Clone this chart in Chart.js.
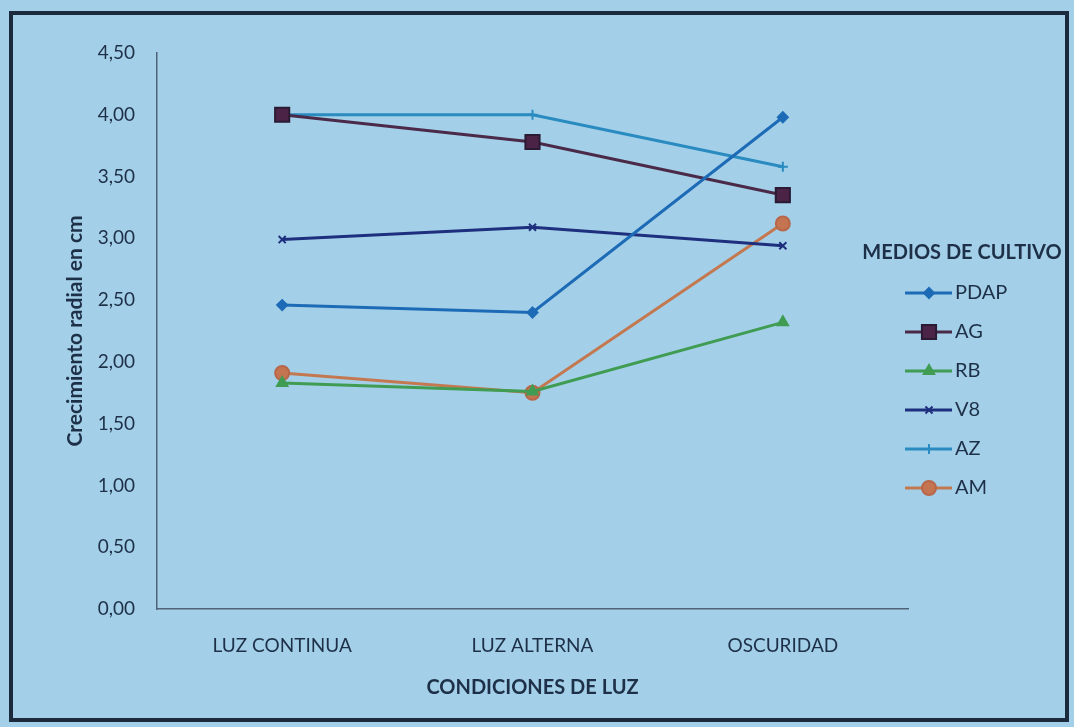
<!DOCTYPE html>
<html>
<head>
<meta charset="utf-8">
<script src="https://cdn.jsdelivr.net/npm/chart.js@4.4.0/dist/chart.umd.min.js"></script>
<style>
  html, body { margin: 0; padding: 0; background: #a3d0e8; }
  #wrap { width: 1074px; height: 727px; position: relative; }
</style>
</head>
<body>
<div id="wrap"><canvas id="c" width="1074" height="727"></canvas></div>
<script>
const categories = ['LUZ CONTINUA', 'LUZ ALTERNA', 'OSCURIDAD'];
const seriesNames = ['PDAP', 'AG', 'RB', 'V8', 'AZ', 'AM'];
const PDAP = [2.46, 2.40, 3.98];
const AG   = [4.00, 3.78, 3.35];
const RB   = [1.83, 1.76, 2.32];
const V8   = [2.99, 3.09, 2.94];
const AZ   = [4.00, 4.00, 3.58];
const AM   = [1.91, 1.75, 3.12];
const yTicks = [0, 0.5, 1, 1.5, 2, 2.5, 3, 3.5, 4, 4.5];

const TEXT = '#1e3048';
const FONT = 'Lato, "Open Sans", sans-serif';

const styles = [
  { line: '#1d6bb6', fill: '#1d6bb6', border: '#1d6bb6', shape: 'rectRot', r: 5 },
  { line: '#4a2a48', fill: '#4b2347', border: '#2b1a33', shape: 'rect', r: 10 },
  { line: '#3f9c52', fill: '#3f9c52', border: '#3f9c52', shape: 'triangle', r: 6 },
  { line: '#1e2f7e', fill: '#1e2f7e', border: '#1e2f7e', shape: 'crossRot', r: 5 },
  { line: '#2a8bc0', fill: '#2a8bc0', border: '#2a8bc0', shape: 'cross', r: 5 },
  { line: '#c47850', fill: '#c47450', border: '#b8664a', shape: 'circle', r: 7 }
];
const values = [PDAP, AG, RB, V8, AZ, AM];

const datasets = seriesNames.map((n, i) => ({
  label: n,
  data: values[i],
  borderColor: styles[i].line,
  backgroundColor: styles[i].fill,
  pointBackgroundColor: styles[i].fill,
  pointBorderColor: styles[i].border,
  pointStyle: styles[i].shape,
  pointRadius: styles[i].r,
  pointBorderWidth: 2,
  borderWidth: 3,
  tension: 0
}));

const framePlugin = {
  id: 'frame',
  beforeDraw(chart) {
    const ctx = chart.ctx;
    ctx.save();
    ctx.fillStyle = '#a3d0e8';
    ctx.fillRect(0, 0, chart.width, chart.height);
    ctx.strokeStyle = '#1b2a3c';
    ctx.lineWidth = 4;
    ctx.strokeRect(11, 13, 1056, 707);
    ctx.restore();
  }
};

const legendPlugin = {
  id: 'customLegend',
  afterDraw(chart) {
    const ctx = chart.ctx;
    ctx.save();
    ctx.fillStyle = TEXT;
    ctx.font = 'bold 20px ' + FONT;
    ctx.textAlign = 'center';
    ctx.textBaseline = 'middle';
    ctx.fillText('MEDIOS DE CULTIVO', 962, 253);
    chart.data.datasets.forEach((ds, i) => {
      const y = 293 + i * 39;
      ctx.strokeStyle = ds.borderColor;
      ctx.lineWidth = 3;
      ctx.beginPath();
      ctx.moveTo(905, y);
      ctx.lineTo(952, y);
      ctx.stroke();
      ctx.fillStyle = ds.pointBackgroundColor;
      ctx.strokeStyle = ds.pointBorderColor;
      ctx.lineWidth = 2;
      Chart.helpers.drawPoint(ctx, {
        pointStyle: ds.pointStyle,
        radius: ds.pointRadius,
        borderWidth: 2,
        rotation: 0
      }, 929, y);
      ctx.fillStyle = TEXT;
      ctx.font = '20px ' + FONT;
      ctx.textAlign = 'left';
      ctx.fillText(ds.label, 955, y);
    });
    ctx.restore();
  }
};

new Chart(document.getElementById('c'), {
  type: 'line',
  data: { labels: categories, datasets },
  options: {
    responsive: false,
    animation: false,
    layout: { padding: { left: 59, right: 166, top: 53, bottom: 23 } },
    plugins: {
      legend: { display: false },
      tooltip: { enabled: false }
    },
    scales: {
      x: {
        offset: true,
        grid: { display: false, drawTicks: false },
        border: { color: '#50627a', width: 1.5 },
        ticks: { color: TEXT, font: { family: FONT, size: 19 }, padding: 25 },
        title: { display: true, text: 'CONDICIONES DE LUZ', color: TEXT, font: { family: FONT, size: 20, weight: 'bold' }, padding: 4 },
        afterFit(s) { s.height = 95; }
      },
      y: {
        min: 0, max: 4.5,
        afterBuildTicks(s) { s.ticks = yTicks.map(v => ({ value: v })); },
        grid: { display: false, drawTicks: false },
        border: { color: '#50627a', width: 1.5 },
        ticks: {
          color: TEXT, font: { family: FONT, size: 19 }, padding: 22,
          callback: v => Number(v).toFixed(2).replace('.', ',')
        },
        title: { display: true, text: 'Crecimiento radial en cm', color: TEXT, font: { family: FONT, size: 21, weight: 'bold' }, padding: 4 },
        afterFit(s) { s.width = 157 - 59; }
      }
    }
  },
  plugins: [framePlugin, legendPlugin]
});
</script>
</body>
</html>
